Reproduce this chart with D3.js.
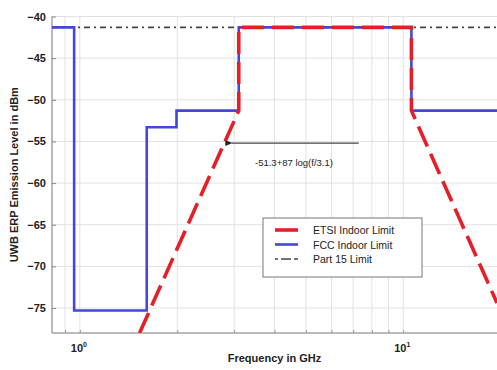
<!DOCTYPE html>
<html>
<head>
<meta charset="utf-8">
<script src="https://cdn.jsdelivr.net/npm/d3@7"></script>
<style>
  body { margin: 0; background: #fff; }
  svg { font-family: "Liberation Sans", Arial, sans-serif; }
</style>
</head>
<body>
<div id="chart"></div>
<script>
// values (GHz, dBm)
const fccFreq = [0.82, 0.96, 0.96, 1.61, 1.61, 1.99, 1.99, 3.1, 3.1, 10.6, 10.6, 19.5];
const fccLevel = [-41.3, -41.3, -75.3, -75.3, -53.3, -53.3, -51.3, -51.3, -41.3, -41.3, -51.3, -51.3];
const etsiFreq = [1.53, 3.1, 3.1, 10.6, 10.6, 19.5];
const etsiLevel = [-78, -51.3, -41.3, -41.3, -51.3, -74.4];
const part15Freq = [0.82, 19.5];
const part15Level = [-41.3, -41.3];
const yTicks = [-75, -70, -65, -60, -55, -50, -45, -40];
const xGrid = [0.9, 1, 2, 3, 4, 5, 6, 7, 8, 9, 10];
const xTickExp = [0, 1];
const legendNames = ['ETSI Indoor Limit', 'FCC Indoor Limit', 'Part 15 Limit'];

const W = 497, H = 370;
const pL = 52, pR = 497, pT = 16.5, pB = 333;

const svg = d3.select('#chart').append('svg')
  .attr('width', W).attr('height', H);

const x = d3.scaleLog().domain([0.82, 19.5]).range([pL, pR]);
const y = d3.scaleLinear().domain([-78, -40]).range([pB, pT]);

const defs = svg.append('defs');
defs.append('clipPath').attr('id', 'clip')
  .append('rect').attr('x', pL).attr('y', pT - 5)
  .attr('width', pR - pL).attr('height', pB - pT + 5);

// grid
const grid = svg.append('g').attr('stroke', '#e2e2e2').attr('stroke-width', 1);
grid.selectAll('.gx').data(xGrid).enter().append('line')
  .attr('x1', d => x(d)).attr('x2', d => x(d))
  .attr('y1', pT).attr('y2', pB);
grid.selectAll('.gy').data(yTicks).enter().append('line')
  .attr('x1', pL).attr('x2', pR)
  .attr('y1', d => y(d)).attr('y2', d => y(d));

// axes
const yAxis = svg.append('g')
  .attr('transform', 'translate(' + pL + ',0)')
  .call(d3.axisLeft(y).tickValues(yTicks).tickSize(-4).tickPadding(6).tickFormat(d3.format('d')));
yAxis.select('.domain').attr('stroke', '#777').attr('d', 'M0,' + pT + 'V' + pB);
yAxis.selectAll('.tick line').attr('stroke', '#888');
yAxis.selectAll('text').attr('font-size', 11).attr('font-weight', 'bold').attr('fill', '#222')
  .attr('font-family', '"Liberation Sans", Arial, sans-serif');

const xAxis = svg.append('g')
  .attr('transform', 'translate(0,' + pB + ')')
  .call(d3.axisBottom(x).tickValues(xGrid).tickSize(-3).tickFormat(''));
xAxis.select('.domain').attr('stroke', '#777').attr('d', 'M' + pL + ',0H' + pR);
xAxis.selectAll('.tick line').attr('stroke', '#999');

const xl = svg.append('g').selectAll('text').data(xTickExp).enter().append('text')
  .attr('x', d => x(Math.pow(10, d)) - 1).attr('y', pB + 19)
  .attr('text-anchor', 'middle').attr('font-size', 11).attr('font-weight', 'bold').attr('fill', '#222');
xl.append('tspan').text('10');
xl.append('tspan').attr('dy', -5).attr('font-size', 7).text(d => d);

// axis titles
svg.append('text').attr('x', (pL + pR) / 2).attr('y', 362)
  .attr('text-anchor', 'middle').attr('font-size', 11).attr('font-weight', 'bold').attr('fill', '#222')
  .text('Frequency in GHz');
svg.append('text')
  .attr('transform', 'translate(18,' + (pT + pB) / 2 + ') rotate(-90)')
  .attr('text-anchor', 'middle').attr('font-size', 11).attr('font-weight', 'bold').attr('fill', '#222')
  .text('UWB ERP Emission Level in dBm');

// series
const line = d3.line().x(d => x(d[0])).y(d => y(d[1]));
const plot = svg.append('g').attr('clip-path', 'url(#clip)');

plot.append('path')
  .datum(d3.zip(part15Freq, part15Level))
  .attr('d', line).attr('fill', 'none')
  .attr('stroke', '#444').attr('stroke-width', 1.6).attr('stroke-dasharray', '6,4,2,4');

plot.append('path')
  .datum(d3.zip(fccFreq, fccLevel))
  .attr('d', line).attr('fill', 'none')
  .attr('stroke', '#4646d8').attr('stroke-width', 2.6);

plot.append('path')
  .datum(d3.zip(etsiFreq, etsiLevel))
  .attr('d', line).attr('fill', 'none')
  .attr('stroke', '#e61e28').attr('stroke-width', 3.6).attr('stroke-dasharray', '22,8');

// annotation
defs.append('marker').attr('id', 'arr')
  .attr('viewBox', '0 0 10 10').attr('refX', 1).attr('refY', 5)
  .attr('markerWidth', 6).attr('markerHeight', 6).attr('orient', 'auto-start-reverse')
  .append('path').attr('d', 'M10,1L0,5L10,9Z').attr('fill', '#222');
svg.append('line')
  .attr('x1', x(2.95)).attr('x2', x(10.4) - 50).attr('y1', y(-55.2)).attr('y2', y(-55.2))
  .attr('stroke', '#444').attr('stroke-width', 1.2).attr('marker-start', 'url(#arr)');
svg.append('text').attr('x', 255).attr('y', 166).attr('font-size', 9.5).attr('fill', '#222')
  .text('-51.3+87 log(f/3.1)');

// legend
const lg = svg.append('g').attr('transform', 'translate(263,218)');
lg.append('rect').attr('width', 159).attr('height', 59)
  .attr('fill', '#fff').attr('stroke', '#777').attr('stroke-width', 1);
const lstyle = [
  { c: '#e61e28', w: 3.6, d: null },
  { c: '#4646d8', w: 2.6, d: null },
  { c: '#444', w: 1.6, d: '3,3,7,0' }
];
const items = lg.selectAll('.item').data(legendNames).enter().append('g')
  .attr('transform', (d, i) => 'translate(0,' + (12 + i * 14.5) + ')');
items.append('line').attr('x1', 12).attr('x2', 35)
  .attr('stroke', (d, i) => lstyle[i].c).attr('stroke-width', (d, i) => lstyle[i].w)
  .attr('stroke-dasharray', (d, i) => lstyle[i].d);
items.append('text').attr('x', 50).attr('y', 4).attr('font-size', 10.5).attr('fill', '#222')
  .text(d => d);
</script>
</body>
</html>
